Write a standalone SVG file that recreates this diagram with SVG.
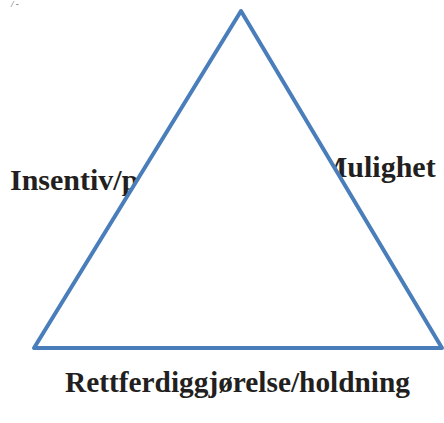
<svg xmlns="http://www.w3.org/2000/svg" width="444" height="423" viewBox="0 0 444 423">
  <style>
    .lbl { font-family: "Liberation Serif", "Times New Roman", serif; font-weight: bold; font-size: 30px; fill: #231f20; }
    .tri { fill: #ffffff; stroke: #4a7ebb; stroke-width: 4; stroke-linejoin: round; }
  </style>
  <rect width="444" height="423" fill="#ffffff"/>
  <text x="11" y="7" style="font-family:'Liberation Serif',serif;font-style:italic;font-size:9px;fill:#555">/ -</text>
  <g id="label-insentiv">
    <text class="lbl" x="10" y="190">Insentiv/p</text>
  </g>
  <g id="label-mulighet">
    <text class="lbl" x="319" y="177">Mulighet</text>
  </g>
  <g id="connectors">
    <polygon id="triangle" class="tri" points="241,11 34,348 442,348"/>
  </g>
  <g id="label-rettferdiggjorelse">
    <text class="lbl" x="65" y="392" textLength="345" lengthAdjust="spacingAndGlyphs">Rettferdiggjørelse/holdning</text>
  </g>
</svg>
